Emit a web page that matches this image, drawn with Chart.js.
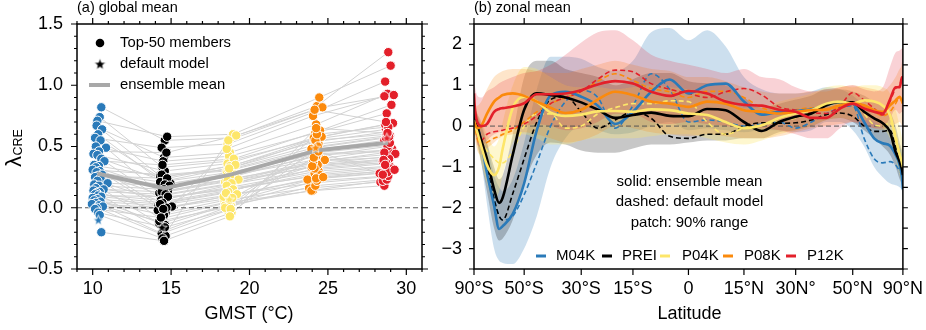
<!DOCTYPE html>
<html>
<head>
<meta charset="utf-8">
<title>Cloud radiative feedback</title>
<script src="https://cdn.jsdelivr.net/npm/chart.js@4.4.0/dist/chart.umd.min.js"></script>
<style>
  html, body { margin: 0; padding: 0; background: #fff; }
  #wrap { position: relative; width: 926px; height: 330px; overflow: hidden; }
  canvas { position: absolute; top: 0; }
  #globalChart { left: 0; }
  #zonalChart { left: 440px; }
</style>
</head>
<body>
<div id="wrap">
  <canvas id="globalChart" width="460" height="330"></canvas>
  <canvas id="zonalChart" width="486" height="330"></canvas>
</div>
<script>
// ---- panel (a): global mean lambda_CRE for the top-50 members ----
const gmstTicks = [10, 15, 20, 25, 30];
const lamTicks = [-0.5, 0, 0.5, 1.0, 1.5];

const gmstM04K = [10.55,10.45,10.30,10.25,10.60,10.35,10.15,10.50,10.20,10.85,10.40,10.05,10.30,10.55,10.75,10.10,10.40,10.20,10.00,10.45,10.25,10.60,10.35,10.15,10.50,10.30,10.95,10.10,10.40,10.20,10.70,10.05,10.45,10.25,10.15,10.35,10.55,10.00,10.30,10.10,10.50,10.20,9.95,10.40,10.65,10.25,10.15,10.35,10.45,10.55];
const gmstPREI = [14.60,14.45,14.75,14.30,14.55,14.85,14.40,14.65,14.50,14.25,14.70,14.35,14.60,14.95,14.45,14.20,14.55,14.80,14.40,14.65,14.30,14.50,14.75,14.35,14.60,14.45,14.90,14.25,14.55,14.70,14.40,14.15,14.65,14.50,14.35,14.80,14.45,14.60,14.30,14.55,15.05,14.40,14.70,14.25,14.50,14.65,14.35,14.60,14.45,14.55];
const gmstP04K = [18.80,18.65,18.95,18.55,18.75,19.05,18.60,18.90,18.70,18.45,19.15,18.85,18.60,18.80,19.00,18.50,18.75,18.95,18.65,18.40,18.85,18.70,19.10,18.55,18.80,18.65,19.30,18.45,18.75,18.90,18.60,18.35,18.85,18.70,18.55,18.95,18.65,18.80,18.50,18.75,19.20,18.60,18.90,18.45,18.70,18.85,18.55,18.80,18.65,18.75];
const gmstP08K = [24.30,24.15,24.45,24.05,24.25,24.55,24.10,24.40,24.20,23.95,24.65,24.35,24.10,24.30,24.50,23.90,24.25,24.45,24.15,23.80,24.35,24.20,24.60,24.05,24.30,24.15,24.80,23.95,24.25,24.40,24.10,23.70,24.35,24.20,24.05,24.45,24.15,24.30,24.00,24.25,24.70,24.10,24.40,23.95,24.20,24.35,24.05,24.30,24.15,24.25];
const gmstP12K = [28.85,28.70,29.00,28.60,28.80,29.10,28.65,28.95,28.75,28.50,29.20,28.90,28.65,28.85,29.05,28.45,28.80,29.00,28.70,28.35,28.90,28.75,29.15,28.60,28.85,28.70,29.30,28.50,28.80,28.95,28.65,28.30,28.90,28.75,28.60,29.00,28.70,28.85,28.55,28.80,29.25,28.65,28.95,28.50,28.75,28.90,28.60,28.85,28.70,28.80];

const lamM04K = [0.82,0.74,0.71,0.67,0.64,0.60,0.57,0.55,0.50,0.49,0.46,0.44,0.43,0.40,0.38,0.35,0.34,0.33,0.31,0.30,0.29,0.27,0.26,0.25,0.24,0.22,0.20,0.19,0.18,0.16,0.15,0.14,0.13,0.12,0.11,0.10,0.09,0.08,0.07,0.06,0.05,0.04,0.03,0.02,0.01,0.00,-0.01,-0.04,-0.06,-0.20];
const lamPREI = [0.55,0.33,0.58,0.26,0.41,0.17,0.49,0.22,0.38,0.12,0.45,0.07,0.30,0.20,0.35,0.02,0.25,0.14,0.27,-0.04,0.21,0.10,0.24,-0.09,0.19,0.05,0.18,-0.13,0.15,0.08,0.13,-0.02,0.11,-0.19,0.06,0.09,0.04,-0.14,0.03,-0.06,0.01,-0.21,0.00,-0.11,-0.01,-0.23,-0.08,-0.16,-0.25,-0.27];
const lamP04K = [0.57,0.38,0.60,0.30,0.45,0.27,0.52,0.33,0.42,0.21,0.59,0.16,0.36,0.25,0.40,0.10,0.34,0.24,0.31,0.06,0.29,0.19,0.35,0.04,0.28,0.14,0.23,0.02,0.26,0.17,0.22,0.09,0.20,0.01,0.18,0.15,0.13,0.03,0.12,0.05,0.11,-0.02,0.08,0.00,0.32,-0.04,0.48,-0.01,0.55,-0.07];
const lamP08K = [0.83,0.56,0.90,0.47,0.68,0.40,0.78,0.52,0.61,0.33,0.82,0.26,0.57,0.43,0.63,0.20,0.54,0.36,0.49,0.16,0.45,0.31,0.58,0.14,0.44,0.28,0.39,0.14,0.42,0.30,0.38,0.23,0.35,0.18,0.37,0.27,0.32,0.22,0.34,0.24,0.25,0.41,0.46,0.48,0.55,0.50,0.75,0.60,0.80,0.65];
const lamP12K = [1.27,0.64,1.16,0.55,0.93,0.48,1.03,0.59,0.77,0.38,0.92,0.30,0.68,0.46,0.84,0.25,0.62,0.42,0.57,0.21,0.51,0.36,0.69,0.18,0.47,0.33,0.44,0.22,0.50,0.34,0.41,0.28,0.40,0.23,0.45,0.32,0.37,0.26,0.39,0.29,0.31,0.35,0.53,0.27,0.60,0.58,0.91,0.66,0.70,0.61];

// default model (stars) and ensemble mean (thick grey line)
const gmstDefault = [10.36, 14.42, 18.72, 24.22, 28.76];
const lamDefault = [-0.10, -0.16, 0.07, 0.49, 0.57];
const gmstMean = [10.30, 14.55, 18.80, 24.35, 28.85];
const lamMean = [0.28, 0.16, 0.27, 0.47, 0.53];

// ---- panel (b): zonal mean ----
const latTicks = [-90, -50, -30, -15, 0, 15, 30, 50, 90];
const latTickLabels = ['90°S', '50°S', '30°S', '15°S', '0', '15°N', '30N°', '50°N', '90°N'];
const zonalTicks = [-3, -2, -1, 0, 1, 2];

const lat = [-90,-85,-80,-75,-70,-65,-62,-60,-55,-50,-45,-40,-35,-30,-25,-20,-15,-10,-5,0,5,10,15,20,25,30,35,40,45,50,55,60,65,70,75,80,85,90];

// m* = ensemble mean, d* = default model, u*/l* = 90% range
const mM04K = [0.28,0.24,0.03,-0.41,-1.15,-1.95,-2.52,-2.45,-2.15,-1.4,-0.1,0.75,0.84,0.72,0.5,0.05,0.35,0.84,1.14,0.8,1.0,1.04,0.6,0.28,0.35,0.37,0.41,0.51,0.59,0.55,0.1,-0.3,-0.42,-0.48,-0.7,-0.95,-1.28,-1.55];
const dM04K = [0.25,0.2,-0.05,-0.35,-1.0,-1.75,-2.2,-2.3,-2.2,-1.68,-0.9,0.0,0.6,0.88,0.7,-0.05,0.5,1.28,0.9,0.1,0.15,0.1,0.0,0.05,0.1,-0.05,0.1,0.3,0.45,0.5,-0.3,-0.8,-0.9,-0.87,-0.95,-1.1,-1.2,-1.3];
const uM04K = [0.5,0.45,0.3,0.1,-0.4,-1.2,-1.5,-1.6,-1.3,-0.4,0.9,1.7,1.7,1.65,1.45,1.35,1.6,2.3,2.4,2.1,2.35,1.95,1.2,0.9,0.8,0.8,0.85,0.95,0.9,0.75,0.5,0.2,0.0,-0.1,-0.3,-0.5,-0.7,-0.9];
const lM04K = [0.0,-0.05,-0.4,-0.9,-1.9,-3.0,-3.3,-3.35,-3.38,-3.0,-2.2,-1.0,-0.3,0.0,-0.1,-0.2,-0.15,0.0,0.1,-0.1,-0.05,-0.1,-0.15,-0.1,-0.1,-0.15,-0.1,0.1,0.1,-0.1,-0.5,-1.0,-1.25,-1.4,-1.45,-1.5,-1.6,-1.75];

const mPREI = [0.3,0.2,0.0,-0.35,-0.8,-1.55,-1.88,-1.75,-0.7,0.4,0.8,0.76,0.7,0.58,0.4,0.2,0.27,0.33,0.25,0.24,0.42,0.39,0.1,-0.12,0.1,0.23,0.31,0.51,0.59,0.58,0.35,0.19,0.07,-0.14,-0.63,-0.87,-1.07,-1.2];
const dPREI = [0.25,0.2,0.0,-0.4,-1.0,-1.8,-2.2,-2.3,-1.65,-0.8,0.1,0.65,0.72,0.35,-0.05,0.15,0.35,0.19,-0.25,-0.3,-0.2,-0.2,0.0,0.08,0.07,0.08,0.15,0.28,0.32,0.24,0.0,-0.13,-0.13,-0.1,-0.5,-0.9,-1.1,-1.15];
const uPREI = [0.6,0.5,0.3,0.0,-0.4,-1.0,-1.3,-1.2,-0.2,1.2,1.6,1.6,1.4,1.3,1.2,1.0,1.15,1.3,1.3,1.1,1.05,1.0,0.7,0.45,0.55,0.65,0.75,0.9,0.9,0.85,0.75,0.6,0.5,0.35,0.0,-0.4,-0.6,-0.7];
const lPREI = [0.0,-0.1,-0.4,-0.9,-1.6,-2.5,-2.8,-2.75,-2.3,-1.4,-0.7,-0.4,-0.45,-0.6,-0.65,-0.65,-0.55,-0.45,-0.45,-0.4,-0.35,-0.35,-0.3,-0.3,-0.15,-0.1,0.0,0.15,0.2,0.1,-0.1,-0.3,-0.5,-0.7,-1.0,-1.3,-1.45,-1.55];

const mP04K = [0.15,0.05,-0.15,-0.5,-0.95,-1.2,-1.0,-0.55,0.45,0.72,0.6,0.33,0.25,0.28,0.36,0.37,0.35,0.41,0.39,0.31,0.27,0.1,-0.05,0.02,0.2,0.31,0.39,0.55,0.6,0.55,0.63,0.6,0.5,0.27,-0.3,-0.7,-0.9,-1.0];
const dP04K = [0.2,0.1,-0.1,-0.35,-0.6,-0.8,-0.9,-0.9,-0.6,0.0,0.3,0.3,-0.05,0.0,0.3,0.45,0.55,0.55,0.62,0.6,0.1,-0.2,-0.05,0.02,0.12,0.2,0.35,0.5,0.55,0.55,0.3,0.03,0.0,0.08,-0.2,-0.7,-0.9,-1.0];
const uP04K = [0.55,0.45,0.3,0.1,-0.2,-0.5,-0.3,0.1,1.0,1.45,1.4,1.2,1.0,0.95,0.95,0.9,0.95,1.0,0.95,0.9,0.8,0.65,0.45,0.45,0.6,0.7,0.8,0.95,1.0,0.95,1.0,1.0,0.95,0.8,0.4,0.0,-0.3,-0.4];
const lP04K = [-0.1,-0.2,-0.5,-0.9,-1.4,-1.8,-1.6,-1.2,-0.4,-0.2,-0.3,-0.45,-0.45,-0.35,-0.3,-0.3,-0.3,-0.25,-0.2,-0.2,-0.3,-0.4,-0.45,-0.35,-0.2,-0.1,0.0,0.15,0.2,0.15,0.15,0.1,-0.05,-0.3,-0.8,-1.2,-1.45,-1.55];

const mP08K = [0.1,0.05,-0.05,0.0,0.3,0.6,0.7,0.76,0.8,0.74,0.6,0.45,0.32,0.4,0.65,0.84,0.76,0.6,0.55,0.47,0.6,0.55,0.39,0.35,0.31,0.35,0.39,0.41,0.51,0.55,0.51,0.39,0.35,0.51,0.63,0.72,0.6,0.55];
const dP08K = [0.1,0.0,-0.3,-0.5,-0.4,-0.3,-0.25,-0.2,-0.1,0.1,0.35,0.55,0.7,0.85,1.1,1.28,1.12,0.92,0.84,0.7,0.85,0.85,0.7,0.45,0.35,0.4,0.45,0.4,0.45,0.6,0.5,0.35,0.25,0.35,0.55,0.7,0.6,0.55];
const uP08K = [0.6,0.55,0.5,0.6,0.9,1.2,1.3,1.35,1.4,1.4,1.35,1.3,1.3,1.4,1.5,1.6,1.5,1.4,1.35,1.2,1.2,1.1,0.95,0.85,0.8,0.8,0.85,0.85,0.95,1.0,0.95,0.9,0.85,1.0,1.2,1.4,1.6,2.2];
const lP08K = [-0.2,-0.3,-0.6,-0.7,-0.55,-0.4,-0.3,-0.25,-0.2,-0.15,-0.2,-0.3,-0.4,-0.35,-0.2,0.0,-0.05,-0.15,-0.2,-0.25,-0.2,-0.25,-0.3,-0.3,-0.25,-0.15,-0.05,0.0,0.05,0.1,0.05,-0.05,-0.1,0.0,0.05,0.1,0.0,-0.05];

const mP12K = [0.8,0.45,0.1,0.0,0.05,0.35,0.42,0.44,0.48,0.56,0.78,0.78,0.8,0.88,1.02,1.1,1.04,0.84,0.74,0.86,0.8,0.6,0.52,0.5,0.4,0.35,0.2,0.2,0.43,0.55,0.43,0.35,0.31,0.65,0.95,0.95,1.2,1.15];
const dP12K = [0.6,0.3,-0.2,-0.35,-0.2,-0.14,-0.12,-0.1,-0.05,0.05,0.25,0.55,0.7,0.85,1.15,1.37,1.33,1.04,0.9,0.8,0.7,0.84,0.92,0.76,0.47,0.39,0.33,0.31,0.5,0.82,0.63,0.43,0.27,0.6,0.92,1.0,1.15,1.1];
const uP12K = [1.2,1.0,0.75,0.7,0.85,0.95,1.05,1.1,1.2,1.3,1.35,1.5,1.75,2.05,2.3,2.35,2.1,1.75,1.6,1.5,1.4,1.3,1.4,1.2,1.15,0.95,0.85,0.9,0.95,1.0,0.9,0.85,0.95,1.45,1.8,1.85,1.9,1.85];
const lP12K = [0.3,0.0,-0.45,-0.5,-0.35,-0.2,-0.15,-0.1,-0.05,0.0,0.05,0.0,-0.1,-0.05,0.1,0.3,0.3,0.1,0.05,0.1,0.05,0.0,-0.05,-0.05,-0.1,-0.2,-0.3,-0.3,-0.05,0.1,0.0,-0.05,-0.05,0.2,0.4,0.3,0.35,0.3];

const runNames = ['M04K', 'PREI', 'P04K', 'P08K', 'P12K'];
const runColors = ['#2a7ab9', '#000000', '#fde66a', '#fb8a0c', '#e3202a'];
const runBands = ['rgba(42,122,185,0.24)', 'rgba(0,0,0,0.22)', 'rgba(253,230,106,0.32)', 'rgba(251,138,12,0.22)', 'rgba(227,32,52,0.2)'];

const FONT = '"Liberation Sans", Arial, Helvetica, sans-serif';
Chart.defaults.font.family = FONT;
Chart.defaults.color = '#000';

function starImage(color, r) {
  const c = document.createElement('canvas');
  const s = Math.ceil(r * 2 + 4);
  c.width = s; c.height = s;
  const g = c.getContext('2d');
  g.translate(s / 2, s / 2 + 0.5);
  g.beginPath();
  for (let k = 0; k < 10; k++) {
    const rad = k % 2 ? r * 0.42 : r;
    const ang = -Math.PI / 2 + k * Math.PI / 5;
    g.lineTo(rad * Math.cos(ang), rad * Math.sin(ang));
  }
  g.closePath();
  g.fillStyle = color;
  g.fill();
  g.strokeStyle = '#fff';
  g.lineWidth = 0.8;
  g.stroke();
  return c;
}

// box around the plot area, ticks pointing out on all four sides
function axisFrame(xTicks, yTicks) {
  return {
    id: 'axisFrame',
    afterDraw(chart) {
      const { ctx, chartArea: a } = chart;
      const xs = chart.scales.x, ys = chart.scales.y;
      ctx.save();
      ctx.strokeStyle = '#000';
      ctx.lineWidth = 1.2;
      ctx.beginPath();
      xTicks.forEach(([v, len]) => {
        const p = xs.getPixelForValue(v);
        ctx.moveTo(p, a.bottom); ctx.lineTo(p, a.bottom + len);
        ctx.moveTo(p, a.top); ctx.lineTo(p, a.top - len);
      });
      yTicks.forEach(([v, len]) => {
        const p = ys.getPixelForValue(v);
        ctx.moveTo(a.left, p); ctx.lineTo(a.left - len, p);
        ctx.moveTo(a.right, p); ctx.lineTo(a.right + len, p);
      });
      ctx.stroke();
      ctx.lineWidth = 1.5;
      ctx.strokeRect(a.left, a.top, a.right - a.left, a.bottom - a.top);
      ctx.restore();
    }
  };
}

function minus(v, digits) {
  const s = Math.abs(v).toFixed(digits);
  return v < 0 ? '\u2212' + s : s;
}

// ---------------- panel (a) ----------------
const gmstByRun = [gmstM04K, gmstPREI, gmstP04K, gmstP08K, gmstP12K];
const lamByRun = [lamM04K, lamPREI, lamP04K, lamP08K, lamP12K];

const globalSets = [];
// one thin grey line per member across the five runs
for (let i = 0; i < lamM04K.length; i++) {
  globalSets.push({
    data: gmstByRun.map((g, r) => ({ x: g[i], y: lamByRun[r][i] })),
    showLine: true,
    borderColor: '#d2d2d2',
    borderWidth: 1,
    pointRadius: 0,
    order: 6
  });
}
globalSets.push({
  data: [{ x: 9, y: 0 }, { x: 31, y: 0 }],
  showLine: true,
  borderColor: '#555',
  borderWidth: 1,
  borderDash: [5, 3],
  pointRadius: 0,
  order: 5
});
runNames.forEach((name, r) => {
  globalSets.push({
    label: name,
    data: gmstByRun[r].map((g, i) => ({ x: g, y: lamByRun[r][i] })),
    pointRadius: 4.7,
    pointBackgroundColor: runColors[r],
    pointBorderColor: '#fff',
    pointBorderWidth: 1,
    order: 4
  });
});
globalSets.push({
  data: gmstMean.map((g, i) => ({ x: g, y: lamMean[i] })),
  showLine: true,
  borderColor: '#a8a8a8',
  borderWidth: 4,
  pointRadius: 0,
  order: 2
});
globalSets.push({
  data: gmstDefault.map((g, i) => ({ x: g, y: lamDefault[i] })),
  pointStyle: runColors.map(c => starImage(c, 5.5)),
  order: 1
});

const globalMinor = [];
for (let v = 9; v <= 31; v++) globalMinor.push([v, gmstTicks.includes(v) ? 6 : 3]);
const lamMinor = [];
for (let k = -5; k <= 15; k++) lamMinor.push([k / 10, k % 5 === 0 ? 6 : 3]);

const globalText = {
  id: 'globalText',
  afterDraw(chart) {
    const ctx = chart.ctx;
    ctx.save();
    ctx.fillStyle = '#000';
    ctx.textBaseline = 'middle';
    ctx.textAlign = 'left';
    ctx.font = '14.5px ' + FONT;
    ctx.fillText('(a) global mean', 77, 8);

    ctx.font = '14.8px ' + FONT;
    ctx.beginPath();
    ctx.arc(100, 43, 4.3, 0, Math.PI * 2);
    ctx.fill();
    ctx.fillText('Top-50 members', 120, 43);
    const st = starImage('#000', 6.2);
    ctx.drawImage(st, 100 - st.width / 2, 64 - st.height / 2);
    ctx.fillText('default model', 120, 64);
    ctx.strokeStyle = '#a8a8a8';
    ctx.lineWidth = 4;
    ctx.beginPath();
    ctx.moveTo(89, 85); ctx.lineTo(110, 85);
    ctx.stroke();
    ctx.fillText('ensemble mean', 120, 85);

    ctx.textAlign = 'center';
    ctx.font = '18px ' + FONT;
    ctx.fillText('GMST (°C)', 249, 314);

    // lambda with CRE subscript, rotated
    ctx.translate(21, 167);
    ctx.rotate(-Math.PI / 2);
    ctx.textAlign = 'left';
    ctx.textBaseline = 'alphabetic';
    ctx.font = '22px ' + FONT;
    ctx.fillText('λ', 0, 0);
    const w = ctx.measureText('λ').width;
    ctx.font = '12.5px ' + FONT;
    ctx.fillText('CRE', w + 0.5, 1);
    ctx.restore();
  }
};

new Chart(document.getElementById('globalChart'), {
  type: 'scatter',
  data: { datasets: globalSets },
  options: {
    responsive: false,
    animation: false,
    events: [],
    layout: { padding: { top: 24, right: 38, left: 0, bottom: 0 } },
    plugins: { legend: { display: false }, tooltip: { enabled: false } },
    scales: {
      x: {
        type: 'linear', min: 9, max: 31,
        afterFit: s => { s.height = 61; },
        afterBuildTicks: s => { s.ticks = gmstTicks.map(v => ({ value: v })); },
        grid: { display: true, drawOnChartArea: false, drawTicks: true, tickLength: 6, color: 'rgba(0,0,0,0)' },
        border: { display: false },
        ticks: { font: { size: 18 }, padding: 3, autoSkip: false, maxRotation: 0, callback: v => String(v) }
      },
      y: {
        type: 'linear', min: -0.5, max: 1.5,
        afterFit: s => { s.width = 77; },
        afterBuildTicks: s => { s.ticks = lamTicks.map(v => ({ value: v })); },
        grid: { display: true, drawOnChartArea: false, drawTicks: true, tickLength: 6, color: 'rgba(0,0,0,0)' },
        border: { display: false },
        ticks: { font: { size: 18 }, padding: 8, autoSkip: false, callback: v => minus(v, 1) }
      }
    }
  },
  plugins: [axisFrame(globalMinor, lamMinor), globalText]
});

// ---------------- panel (b) ----------------
const latX = lat.map(d => Math.sin(d * Math.PI / 180));
const pts = arr => arr.map((v, i) => ({ x: latX[i], y: v }));

const meanByRun = [mM04K, mPREI, mP04K, mP08K, mP12K];
const defByRun = [dM04K, dPREI, dP04K, dP08K, dP12K];
const upByRun = [uM04K, uPREI, uP04K, uP08K, uP12K];
const lowByRun = [lM04K, lPREI, lP04K, lP08K, lP12K];

const zonalSets = [];
// solid ensemble means, later runs on top
for (let r = runNames.length - 1; r >= 0; r--) {
  zonalSets.push({
    label: runNames[r],
    data: pts(meanByRun[r]),
    borderColor: runColors[r],
    borderWidth: 2.6,
    pointRadius: 0,
    cubicInterpolationMode: 'monotone',
    fill: false
  });
}
for (let r = runNames.length - 1; r >= 0; r--) {
  zonalSets.push({
    data: pts(defByRun[r]),
    borderColor: runColors[r],
    borderWidth: 1.6,
    borderDash: [5, 3],
    pointRadius: 0,
    cubicInterpolationMode: 'monotone',
    fill: false
  });
}
zonalSets.push({
  data: [{ x: -1, y: 0 }, { x: 1, y: 0 }],
  borderColor: '#555',
  borderWidth: 1,
  borderDash: [5, 3],
  pointRadius: 0,
  fill: false
});
// 90% range patches
for (let r = runNames.length - 1; r >= 0; r--) {
  zonalSets.push({
    data: pts(upByRun[r]),
    borderWidth: 0,
    borderColor: 'rgba(0,0,0,0)',
    pointRadius: 0,
    cubicInterpolationMode: 'monotone',
    fill: false
  });
  zonalSets.push({
    data: pts(lowByRun[r]),
    borderWidth: 0,
    borderColor: 'rgba(0,0,0,0)',
    backgroundColor: runBands[r],
    pointRadius: 0,
    cubicInterpolationMode: 'monotone',
    fill: '-1'
  });
}

const latTickPos = latTicks.map(d => Math.sin(d * Math.PI / 180));
const zonalMinor = [];
for (let k = -7; k <= 5; k++) zonalMinor.push([k / 2, 5]);

const zonalText = {
  id: 'zonalText',
  afterDraw(chart) {
    const ctx = chart.ctx;
    ctx.save();
    ctx.fillStyle = '#000';
    ctx.textBaseline = 'middle';
    ctx.textAlign = 'left';
    ctx.font = '14.5px ' + FONT;
    ctx.fillText('(b) zonal mean', 34, 8);

    ctx.textAlign = 'center';
    ctx.font = '15px ' + FONT;
    ctx.fillText('solid: ensemble mean', 249.5, 182);
    ctx.fillText('dashed: default model', 249.5, 202);
    ctx.fillText('patch: 90% range', 249.5, 223);

    const marks = [[96, 116], [162, 182], [220, 242], [283, 304], [346, 367]];
    ctx.textAlign = 'left';
    marks.forEach(([m, t], r) => {
      ctx.strokeStyle = runColors[r];
      ctx.lineWidth = 3;
      ctx.beginPath();
      ctx.moveTo(m, 256); ctx.lineTo(m + 10, 256);
      ctx.stroke();
      ctx.fillText(runNames[r], t, 256);
    });

    ctx.textAlign = 'center';
    ctx.font = '18px ' + FONT;
    ctx.fillText('Latitude', 249.5, 314);
    ctx.restore();
  }
};

new Chart(document.getElementById('zonalChart'), {
  type: 'line',
  data: { datasets: zonalSets },
  options: {
    responsive: false,
    animation: false,
    events: [],
    layout: { padding: { top: 24, right: 21, left: 0, bottom: 0 } },
    plugins: { legend: { display: false }, tooltip: { enabled: false }, filler: { propagate: false } },
    scales: {
      x: {
        type: 'linear', min: -1, max: 1,
        afterFit: s => { s.height = 61; },
        afterBuildTicks: s => { s.ticks = latTickPos.map(v => ({ value: v })); },
        grid: { display: true, drawOnChartArea: false, drawTicks: true, tickLength: 6, color: 'rgba(0,0,0,0)' },
        border: { display: false },
        ticks: { font: { size: 18 }, padding: 3, autoSkip: false, maxRotation: 0, callback: (v, i) => latTickLabels[i] }
      },
      y: {
        type: 'linear', min: -3.5, max: 2.5,
        afterFit: s => { s.width = 34; },
        afterBuildTicks: s => { s.ticks = zonalTicks.map(v => ({ value: v })); },
        grid: { display: true, drawOnChartArea: false, drawTicks: true, tickLength: 6, color: 'rgba(0,0,0,0)' },
        border: { display: false },
        ticks: { font: { size: 18 }, padding: 6, autoSkip: false, callback: v => minus(v, 0) }
      }
    }
  },
  plugins: [axisFrame(latTickPos.map(v => [v, 6]), zonalMinor), zonalText]
});
</script>
</body>
</html>
